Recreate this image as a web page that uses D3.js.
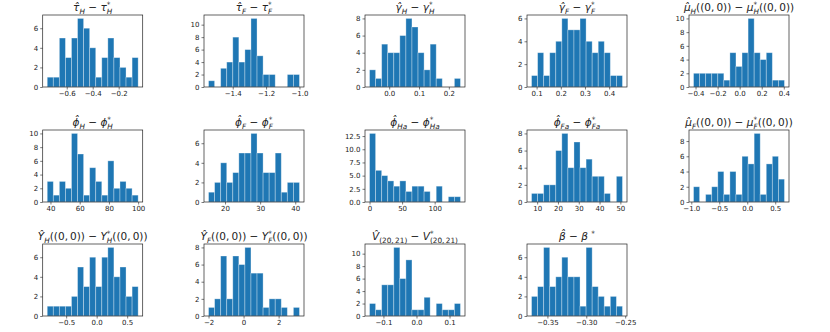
<!DOCTYPE html>
<html>
<head>
<meta charset="utf-8">
<script src="https://cdn.jsdelivr.net/npm/d3@7"></script>
<style>
  body { margin: 0; background: #fff; }
  text { font-family: "DejaVu Sans", sans-serif; fill: #222; }
</style>
</head>
<body>
<script>
// titres des panneaux (_{..} indice, ^{..} exposant)
const titles = [
  "τ̂_{H} − τ_{H}^{*}",
  "τ̂_{F} − τ_{F}^{*}",
  "γ̂_{H} − γ_{H}^{*}",
  "γ̂_{F} − γ_{F}^{*}",
  "μ̂_{H}((0,\u20090)) − μ_{H}^{*}((0,\u20090))",
  "ϕ̂_{H} − ϕ_{H}^{*}",
  "ϕ̂_{F} − ϕ_{F}^{*}",
  "ϕ̂_{Ha} − ϕ_{Ha}^{*}",
  "ϕ̂_{Fa} − ϕ_{Fa}^{*}",
  "μ̂_{F}((0,\u20090)) − μ_{F}^{*}((0,\u20090))",
  "Ŷ_{H}((0,\u20090)) − Y_{H}^{*}((0,\u20090))",
  "Ŷ_{F}((0,\u20090)) − Y_{F}^{*}((0,\u20090))",
  "V̂_{(20,\u200921)} − V^{*}_{(20,\u200921)}",
  "β̂ − β ^{*}"
];

// comptes par classe (15 classes, 50 tirages)
const counts = [
  [1, 1, 5, 3, 5, 7, 6, 4, 1, 3, 5, 3, 2, 1, 3],
  [1, 0, 3, 4, 8, 4, 6, 11, 5, 2, 2, 0, 0, 2, 2],
  [2, 1, 5, 4, 4, 6, 8, 7, 4, 2, 5, 1, 0, 0, 1],
  [1, 3, 1, 3, 4, 6, 5, 5, 6, 4, 3, 4, 3, 1, 1],
  [2, 2, 2, 2, 2, 1, 5, 3, 5, 10, 5, 4, 5, 1, 1],
  [3, 1, 3, 2, 10, 7, 1, 5, 3, 1, 6, 2, 3, 2, 1],
  [1, 2, 4, 2, 3, 5, 5, 7, 5, 3, 3, 5, 1, 2, 2],
  [13, 6, 5, 4, 3, 4, 2, 3, 3, 2, 0, 3, 0, 1, 1],
  [1, 1, 2, 2, 6, 8, 4, 7, 4, 5, 3, 3, 1, 0, 3],
  [2, 0, 1, 2, 4, 1, 4, 1, 6, 5, 9, 1, 5, 6, 3],
  [1, 1, 1, 1, 2, 5, 3, 6, 3, 6, 7, 4, 5, 2, 3],
  [1, 2, 7, 2, 7, 6, 8, 5, 5, 1, 2, 2, 1, 0, 1],
  [2, 1, 5, 5, 11, 6, 9, 1, 1, 3, 0, 2, 1, 1, 2],
  [2, 3, 7, 3, 4, 6, 4, 4, 1, 7, 3, 2, 1, 2, 1]
];

// bornes min / max des classes
const binLo = [-0.75, -1.545, -0.066, 0.079, -0.418, 37.8, 15.3, 0, 7.3, -0.96, -0.81, -2.0, -0.142, -0.3704];
const binHi = [-0.05, -1.0, 0.239, 0.455, 0.406, 100, 41.2, 139.6, 51, 0.665, 0.68, 3.19, 0.133, -0.2535];

// graduations
const xTicks = [
  [-0.6, -0.4, -0.2],
  [-1.4, -1.2, -1.0],
  [0.0, 0.1, 0.2],
  [0.1, 0.2, 0.3, 0.4],
  [-0.4, -0.2, 0.0, 0.2, 0.4],
  [40, 60, 80, 100],
  [20, 30, 40],
  [0, 50, 100],
  [10, 20, 30, 40, 50],
  [-1.0, -0.5, 0.0, 0.5],
  [-0.5, 0.0, 0.5],
  [-2, 0, 2],
  [-0.1, 0.0, 0.1],
  [-0.35, -0.30, -0.25]
];
const xFmt = [".1f", ".1f", ".1f", ".1f", ".1f", "d", "d", "d", "d", ".1f", ".1f", "d", ".1f", ".2f"];
const yTicks = [
  [0, 2, 4, 6],
  [0, 2, 4, 6, 8, 10],
  [0, 2, 4, 6, 8],
  [0, 2, 4, 6],
  [0, 2, 4, 6, 8, 10],
  [0, 2, 4, 6, 8, 10],
  [0, 2, 4, 6],
  [0, 2.5, 5, 7.5, 10, 12.5],
  [0, 2, 4, 6, 8],
  [0, 2, 4, 6, 8],
  [0, 2, 4, 6],
  [0, 2, 4, 6, 8],
  [0, 2, 4, 6, 8, 10],
  [0, 2, 4, 6]
];
const yFmt = ["d", "d", "d", "d", "d", "d", "d", ".1f", "d", "d", "d", "d", "d", "d"];

const width = 830, height = 332;
const colX = [42.7, 204, 365, 527, 689];
const rowY = [15, 130, 244];
const W = 100, H = 72;

const svg = d3.select("body").append("svg")
  .attr("width", width)
  .attr("height", height);

// Titre en pseudo-mathtext
function drawTitle(g, s) {
  const t = g.append("text")
    .attr("x", W / 2)
    .attr("y", -4)
    .attr("text-anchor", "middle")
    .attr("font-size", 10.5);

  const parts = [];
  s.replace(/([_^])\{([^}]*)\}|([^_^]+)/g, (m, op, inner, plain) => {
    if (plain !== undefined) parts.push({ k: "n", s: plain });
    else parts.push({ k: op === "_" ? "sub" : "sup", s: inner });
  });

  const off = { n: 0, sub: 2.7, sup: -4.4 };
  const size = { n: 10.5, sub: 7.3, sup: 7.3 };
  let cur = 0;
  let pendingDx = 0;

  function addRun(p) {
    const spans = [];
    const chunks = p.s.match(/(?:[A-Za-z\u0370-\u03FF\u0176]\u0302?)+|[^A-Za-z\u0370-\u03FF\u0176]+/g) || [];
    chunks.forEach((c, j) => {
      const ts = t.append("tspan")
        .attr("font-size", size[p.k])
        .text(c);
      if (/[A-Za-z\u0370-\u03FF\u0176]/.test(c)) ts.attr("font-style", "italic");
      if (j === 0) {
        ts.attr("dy", off[p.k] - cur);
        if (pendingDx) ts.attr("dx", pendingDx);
        cur = off[p.k];
        pendingDx = 0;
      }
      spans.push(ts);
    });
    return d3.sum(spans, d => d.node().getComputedTextLength());
  }

  for (let i = 0; i < parts.length; i++) {
    const p = parts[i], q = parts[i + 1];
    if (p.k !== "n" && q && q.k !== "n" && q.k !== p.k) {
      const wa = addRun(p);
      pendingDx = -wa;
      const wb = addRun(q);
      if (wa > wb) pendingDx = wa - wb;
      i++;
    } else {
      addRun(p);
    }
  }
}

counts.forEach((c, i) => {
  const r = Math.floor(i / 5), col = i % 5;
  const g = svg.append("g")
    .attr("transform", `translate(${colX[col]},${rowY[r]})`);

  const lo = binLo[i], hi = binHi[i], pad = (hi - lo) * 0.05;
  const x = d3.scaleLinear().domain([lo - pad, hi + pad]).range([0, W]);
  const y = d3.scaleLinear().domain([0, d3.max(c) * 1.05]).range([H, 0]);
  const edges = d3.range(c.length + 1).map(k => lo + (hi - lo) * k / c.length);

  g.selectAll("rect.bar")
    .data(c)
    .join("rect")
    .attr("class", "bar")
    .attr("x", (d, k) => x(edges[k]))
    .attr("width", (d, k) => x(edges[k + 1]) - x(edges[k]))
    .attr("y", d => y(d))
    .attr("height", d => H - y(d))
    .attr("fill", "#1f77b4")
    .attr("stroke", "#ffffff")
    .attr("stroke-opacity", 0.4)
    .attr("stroke-width", 0.8);

  const xa = g.append("g")
    .attr("transform", `translate(0,${H})`)
    .call(d3.axisBottom(x).tickValues(xTicks[i]).tickFormat(d3.format(xFmt[i])).tickSize(2.5).tickPadding(2));
  const ya = g.append("g")
    .call(d3.axisLeft(y).tickValues(yTicks[i]).tickFormat(d3.format(yFmt[i])).tickSize(2.5).tickPadding(2));

  [xa, ya].forEach(a => {
    a.select(".domain").remove();
    a.selectAll("text").attr("font-size", 7).attr("font-family", "DejaVu Sans").attr("fill", "#222");
    a.selectAll("line").attr("stroke", "#222").attr("stroke-width", 0.6);
  });

  // cadre
  g.append("rect")
    .attr("width", W)
    .attr("height", H)
    .attr("fill", "none")
    .attr("stroke", "#222")
    .attr("stroke-width", 0.7);

  drawTitle(g, titles[i]);
});
</script>
</body>
</html>
